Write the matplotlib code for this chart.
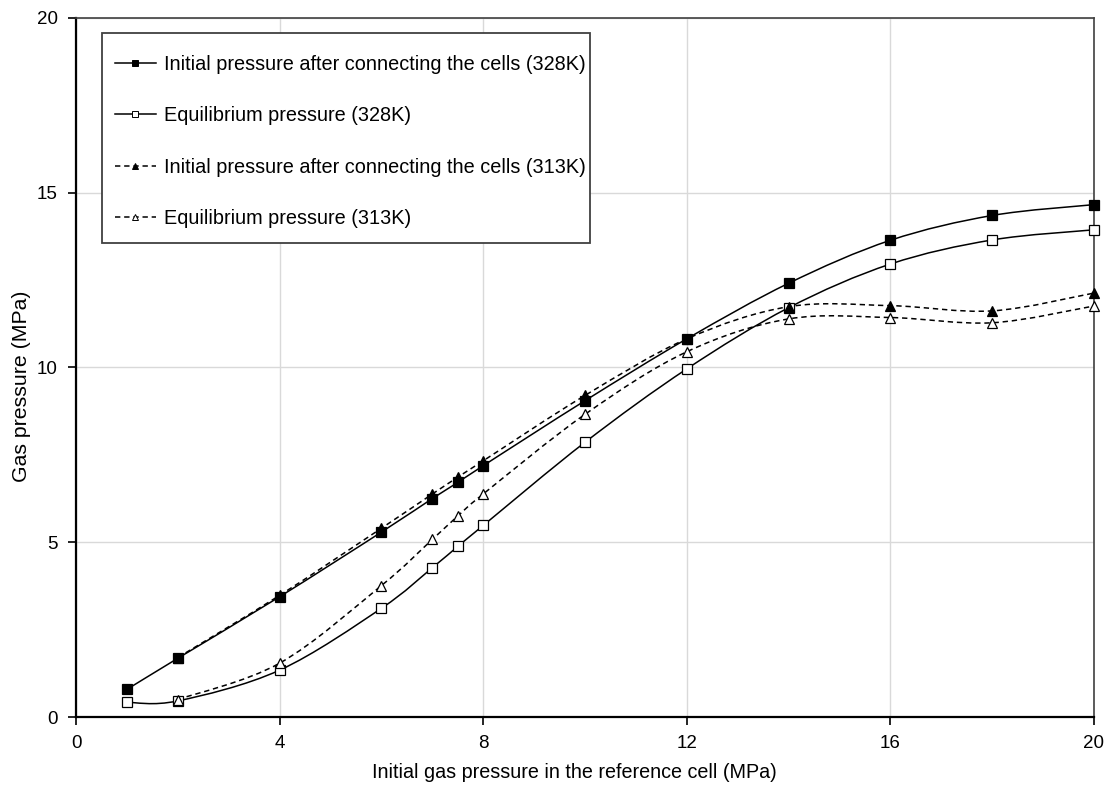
import numpy as np
import matplotlib
matplotlib.use('Agg')
import matplotlib.pyplot as plt
from matplotlib.path import Path
from matplotlib.patches import PathPatch, Rectangle
from matplotlib.lines import Line2D

plt.rcParams['font.family'] = ['Liberation Sans', 'DejaVu Sans']

# Data (MPa)
p_ref_328 = [1, 2, 4, 6, 7, 7.5, 8, 10, 12, 14, 16, 18, 20]
p_init_328 = [0.79, 1.68, 3.44, 5.29, 6.25, 6.71, 7.19, 9.05, 10.82, 12.41, 13.64, 14.35, 14.66]
p_eq_328 = [0.42, 0.46, 1.34, 3.11, 4.27, 4.88, 5.48, 7.86, 9.96, 11.71, 12.96, 13.65, 13.94]

p_ref_313 = [2, 4, 6, 7, 7.5, 8, 10, 12, 14, 16, 18, 20]
p_init_313 = [1.70, 3.48, 5.40, 6.38, 6.86, 7.33, 9.20, 10.82, 11.74, 11.77, 11.62, 12.13]
p_eq_313 = [0.50, 1.54, 3.76, 5.08, 5.75, 6.38, 8.66, 10.45, 11.39, 11.43, 11.28, 11.76]

labels = ['Initial pressure after connecting the cells (328K)',
          'Equilibrium pressure (328K)',
          'Initial pressure after connecting the cells (313K)',
          'Equilibrium pressure (313K)']


def smooth_path(xs, ys):
    # Excel-style smoothed line: cubic Bezier through the points
    pts = np.column_stack([xs, ys]).astype(float)
    n = len(pts)
    verts = [pts[0]]
    codes = [Path.MOVETO]
    for i in range(n - 1):
        p0 = pts[i - 1] if i > 0 else pts[i]
        p1 = pts[i]
        p2 = pts[i + 1]
        p3 = pts[i + 2] if i + 2 < n else pts[i + 1]
        c1 = p1 + (p2 - p0) / 6.0
        c2 = p2 - (p3 - p1) / 6.0
        verts += [c1, c2, p2]
        codes += [Path.CURVE4] * 3
    return Path(verts, codes)


W, H = 1112, 787
L, R, T, B = 76, 1094, 18, 717  # axes box in pixels

fig = plt.figure(figsize=(W / 100, H / 100), dpi=100)
ax = fig.add_axes([L / W, 1 - B / H, (R - L) / W, (B - T) / H])


def ax_x(px):
    return (px - L) / (R - L)


def ax_y(py):
    return (B - py) / (B - T)


series = [
    (p_ref_328, p_init_328, '-', 's', 'black'),
    (p_ref_328, p_eq_328, '-', 's', 'white'),
    (p_ref_313, p_init_313, (0, (3.5, 2.5)), '^', 'black'),
    (p_ref_313, p_eq_313, (0, (3.5, 2.5)), '^', 'white'),
]

handles = []
for (xs, ys, ls, mk, fc), lab in zip(series, labels):
    patch = PathPatch(smooth_path(xs, ys), facecolor='none', edgecolor='black',
                      linewidth=1.1, linestyle=ls, zorder=3)
    ax.add_patch(patch)
    ax.plot(xs, ys, linestyle='none', marker=mk, markersize=7.5,
            markerfacecolor=fc, markeredgecolor='black', markeredgewidth=0.9,
            zorder=4, clip_on=False)
    handles.append(Line2D([], [], color='black', linewidth=1.1, linestyle=ls,
                          marker=mk, markersize=5, markerfacecolor=fc,
                          markeredgecolor='black', markeredgewidth=0.7))

ax.set_xlim(0, 20)
ax.set_ylim(0, 20)
ax.set_xticks(np.arange(0, 21, 4))
ax.set_yticks(np.arange(0, 21, 5))
ax.grid(True, color='#d9d9d9', linewidth=1.0, zorder=0)
ax.set_axisbelow(True)
ax.tick_params(direction='out', length=6, width=1.2, labelsize=13.5, pad=7)

for side in ['left', 'bottom']:
    ax.spines[side].set_linewidth(1.6)
    ax.spines[side].set_color('black')
for side in ['top', 'right']:
    ax.spines[side].set_linewidth(1.2)
    ax.spines[side].set_color('#404040')

ax.set_xlabel('Initial gas pressure in the reference cell (MPa)', fontsize=14.2, va='center')
ax.xaxis.set_label_coords(ax_x(574), ax_y(773))
ax.set_ylabel('Gas pressure (MPa)', fontsize=15.3, va='center')
ax.yaxis.set_label_coords(ax_x(22), ax_y(386))

# legend frame drawn separately so the side and top padding can differ
box = Rectangle((ax_x(102), ax_y(243)), ax_x(590) - ax_x(102), ax_y(33) - ax_y(243),
                transform=ax.transAxes, facecolor='white', edgecolor='#404040',
                linewidth=1.3, zorder=6)
ax.add_patch(box)

leg = ax.legend(handles=handles, labels=labels, loc='upper left',
                bbox_to_anchor=(ax_x(115), ax_y(55)),
                fontsize=14.3, frameon=False, handlelength=2.05, handletextpad=0.4,
                labelspacing=1.63, borderpad=0, borderaxespad=0)
leg.set_zorder(7)

plt.savefig('out.png', dpi=100)
